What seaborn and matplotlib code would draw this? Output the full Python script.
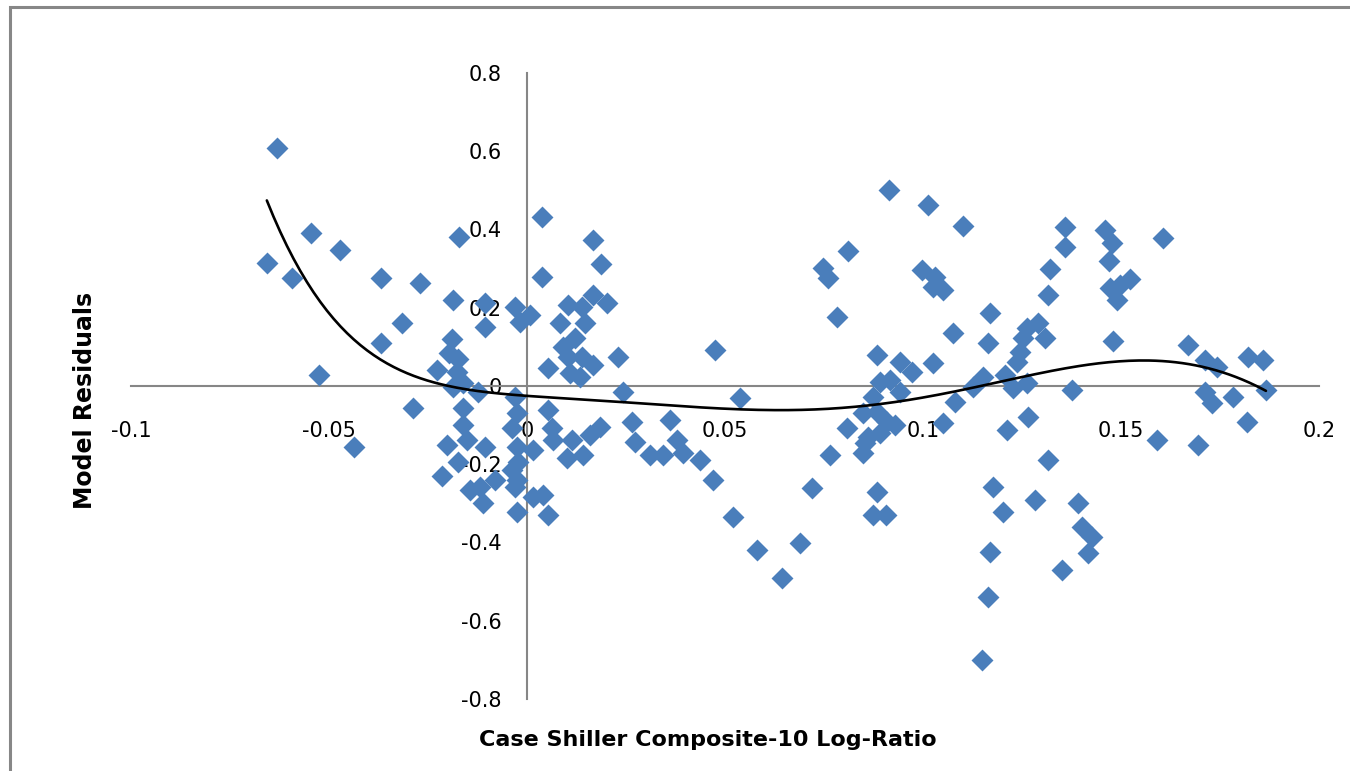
import numpy as np
import pandas as pd
import seaborn as sns
import matplotlib.pyplot as plt
from matplotlib.patches import Rectangle

# log-ratio of the Case Shiller index vs. model residuals
log_ratio = [
    -0.0631, -0.0657, -0.0593, -0.0545, -0.0525, -0.0472, -0.0437, -0.0369, -0.0369, -0.0316,
    -0.0270, -0.0288, -0.0172, -0.0227, -0.0189, -0.0197, -0.0174, -0.0177, -0.0162, -0.0187,
    -0.0124, -0.0162, -0.0162, -0.0152, -0.0202, -0.0106, -0.0174, -0.0215, -0.0144, -0.0119,
    -0.0111, -0.0081, -0.0187, -0.0106, -0.0106, -0.0030, -0.0025, -0.0038, -0.0025, -0.0023,
    -0.0038, -0.0025, 0.0015, -0.0025, -0.0030, 0.0008, -0.0018, 0.0015, -0.0030, 0.0040,
    0.0053, 0.0038, 0.0167, 0.0187, 0.0038, 0.0083, 0.0104, 0.0139, 0.0167, 0.0202,
    0.0146, 0.0121, 0.0091, 0.0104, 0.0139, 0.0167, 0.0230, 0.0053, 0.0109, 0.0134,
    0.0475, 0.0053, 0.0063, 0.0066, 0.0114, 0.0101, 0.0141, 0.0159, 0.0184, 0.0242,
    0.0265, 0.0273, 0.0311, 0.0343, 0.0361, 0.0379, 0.0394, 0.0437, 0.0470, 0.0538,
    0.0520, 0.0581, 0.0644, 0.0689, 0.0720, 0.0914, 0.1013, 0.1101, 0.0811, 0.0747,
    0.0760, 0.0783, 0.0997, 0.1030, 0.1025, 0.1051, 0.1359, 0.1359, 0.1321, 0.1316,
    0.1169, 0.1076, 0.1164, 0.1263, 0.1290, 0.1308, 0.1253, 0.1245, 0.1237, 0.0884,
    0.0942, 0.0972, 0.1025, 0.1152, 0.1207, 0.0891, 0.0917, 0.1263, 0.1376, 0.0942,
    0.0874, 0.0848, 0.0884, 0.0909, 0.0929, 0.0891, 0.0861, 0.0854, 0.0848, 0.0808,
    0.0765, 0.0884, 0.0874, 0.0907, 0.1081, 0.1051, 0.1126, 0.1227, 0.1265, 0.1212,
    0.1316, 0.1177, 0.1202, 0.1283, 0.1169, 0.1164, 0.1149, 0.1391, 0.1351, 0.1402,
    0.1427, 0.1417, 0.1460, 0.1477, 0.1470, 0.1472, 0.1490, 0.1523, 0.1497, 0.1606,
    0.1480, 0.1669, 0.1712, 0.1742, 0.1821, 0.1859, 0.1712, 0.1730, 0.1783, 0.1818,
    0.1866, 0.1591, 0.1694,
]
residuals = [
    0.608, 0.314, 0.276, 0.391, 0.028, 0.347, -0.156, 0.276, 0.110, 0.161,
    0.263, -0.056, 0.381, 0.041, 0.120, 0.084, 0.069, 0.036, 0.008, -0.003,
    -0.015, -0.056, -0.100, -0.138, -0.151, -0.156, -0.194, -0.230, -0.266, -0.258,
    -0.299, -0.240, 0.220, 0.212, 0.151, -0.028, -0.069, -0.107, -0.156, -0.194,
    -0.215, -0.240, -0.284, -0.322, 0.202, 0.181, 0.163, -0.163, -0.258, -0.278,
    -0.330, 0.432, 0.373, 0.312, 0.278, 0.161, 0.207, 0.202, 0.232, 0.212,
    0.161, 0.123, 0.100, 0.074, 0.074, 0.054, 0.074, 0.046, 0.033, 0.023,
    0.092, -0.061, -0.107, -0.138, -0.138, -0.184, -0.176, -0.125, -0.105, -0.015,
    -0.092, -0.143, -0.176, -0.176, -0.087, -0.138, -0.171, -0.189, -0.240, -0.031,
    -0.335, -0.419, -0.490, -0.401, -0.261, 0.501, 0.462, 0.409, 0.345, 0.301,
    0.276, 0.176, 0.296, 0.278, 0.253, 0.245, 0.406, 0.355, 0.299, 0.232,
    0.186, 0.135, 0.110, 0.148, 0.161, 0.123, 0.123, 0.087, 0.061, 0.079,
    0.061, 0.036, 0.059, 0.023, 0.028, 0.010, 0.015, 0.008, -0.010, -0.015,
    -0.028, -0.069, -0.066, -0.092, -0.100, -0.120, -0.130, -0.146, -0.171, -0.107,
    -0.176, -0.271, -0.330, -0.330, -0.041, -0.095, -0.003, -0.005, -0.079, -0.112,
    -0.189, -0.258, -0.322, -0.291, -0.424, -0.539, -0.700, -0.299, -0.470, -0.360,
    -0.386, -0.427, 0.398, 0.365, 0.319, 0.250, 0.220, 0.273, 0.258, 0.378,
    0.115, 0.105, 0.066, 0.049, 0.074, 0.066, -0.015, -0.043, -0.028, -0.092,
    -0.010, -0.138, -0.151,
]

x_ticks = [-0.1, -0.05, 0, 0.05, 0.1, 0.15, 0.2]
x_labels = ["-0.1", "-0.05", "0", "0.05", "0.1", "0.15", "0.2"]
y_ticks = [-0.8, -0.6, -0.4, -0.2, 0, 0.2, 0.4, 0.6, 0.8]
y_labels = ["-0.8", "-0.6", "-0.4", "-0.2", "0", "0.2", "0.4", "0.6", "0.8"]
TREND_ORDER = 6

df = pd.DataFrame({"log_ratio": log_ratio, "residual": residuals})

sns.set_style("white")
plt.rcParams["font.family"] = ["DejaVu Sans"]
plt.rcParams["text.color"] = "black"
plt.rcParams["xtick.labelcolor"] = "black"
plt.rcParams["ytick.labelcolor"] = "black"

fig = plt.figure(figsize=(13.5, 7.71), dpi=100)
ax = fig.add_axes([131 / 1350, 1 - 699 / 771, (1319 - 131) / 1350, (699 - 72.8) / 771])

sns.scatterplot(data=df, x="log_ratio", y="residual", ax=ax, marker="D",
                s=125, color="#4A7EBB", linewidth=0, zorder=3)

# polynomial trendline, like Excel's
coef = np.polyfit(df["log_ratio"], df["residual"], TREND_ORDER)
xs = np.linspace(df["log_ratio"].min(), df["log_ratio"].max(), 300)
ax.plot(xs, np.polyval(coef, xs), color="black", lw=1.9, zorder=4)

ax.set_xlim(-0.1, 0.2)
ax.set_ylim(-0.8, 0.8)
ax.set_xticks(x_ticks)
ax.set_xticklabels(x_labels)
ax.set_yticks(y_ticks)
ax.set_yticklabels(y_labels)
ax.set_xlabel("")
ax.set_ylabel("")

for side in ["top", "right"]:
    ax.spines[side].set_visible(False)
for side in ["left", "bottom"]:
    ax.spines[side].set_position(("data", 0))
    ax.spines[side].set_color("#868686")
    ax.spines[side].set_linewidth(1.5)
    ax.spines[side].set_zorder(2)

ax.tick_params(axis="x", direction="out", length=7, width=1.5, color="#868686",
               pad=18, labelsize=15, labelcolor="black")
ax.tick_params(axis="y", direction="out", length=7, width=1.5, color="#868686",
               pad=11, labelsize=15, labelcolor="black")

fig.text(708 / 1350, 1 - 740 / 771, "Case Shiller Composite-10 Log-Ratio",
         ha="center", va="center", fontsize=16, fontweight="bold", color="black")
fig.text(85 / 1350, 1 - 400 / 771, "Model Residuals", rotation=90,
         ha="center", va="center", fontsize=17, fontweight="bold", color="black")

# chart-area frame (only top and left edges show in the crop)
fig.patches.append(Rectangle((9.5 / 1350, -0.2), 1.5, 1.2 - 6.5 / 771,
                             transform=fig.transFigure, fill=False,
                             ec="#878787", lw=2.2))

fig.savefig("out.png", dpi=100)
